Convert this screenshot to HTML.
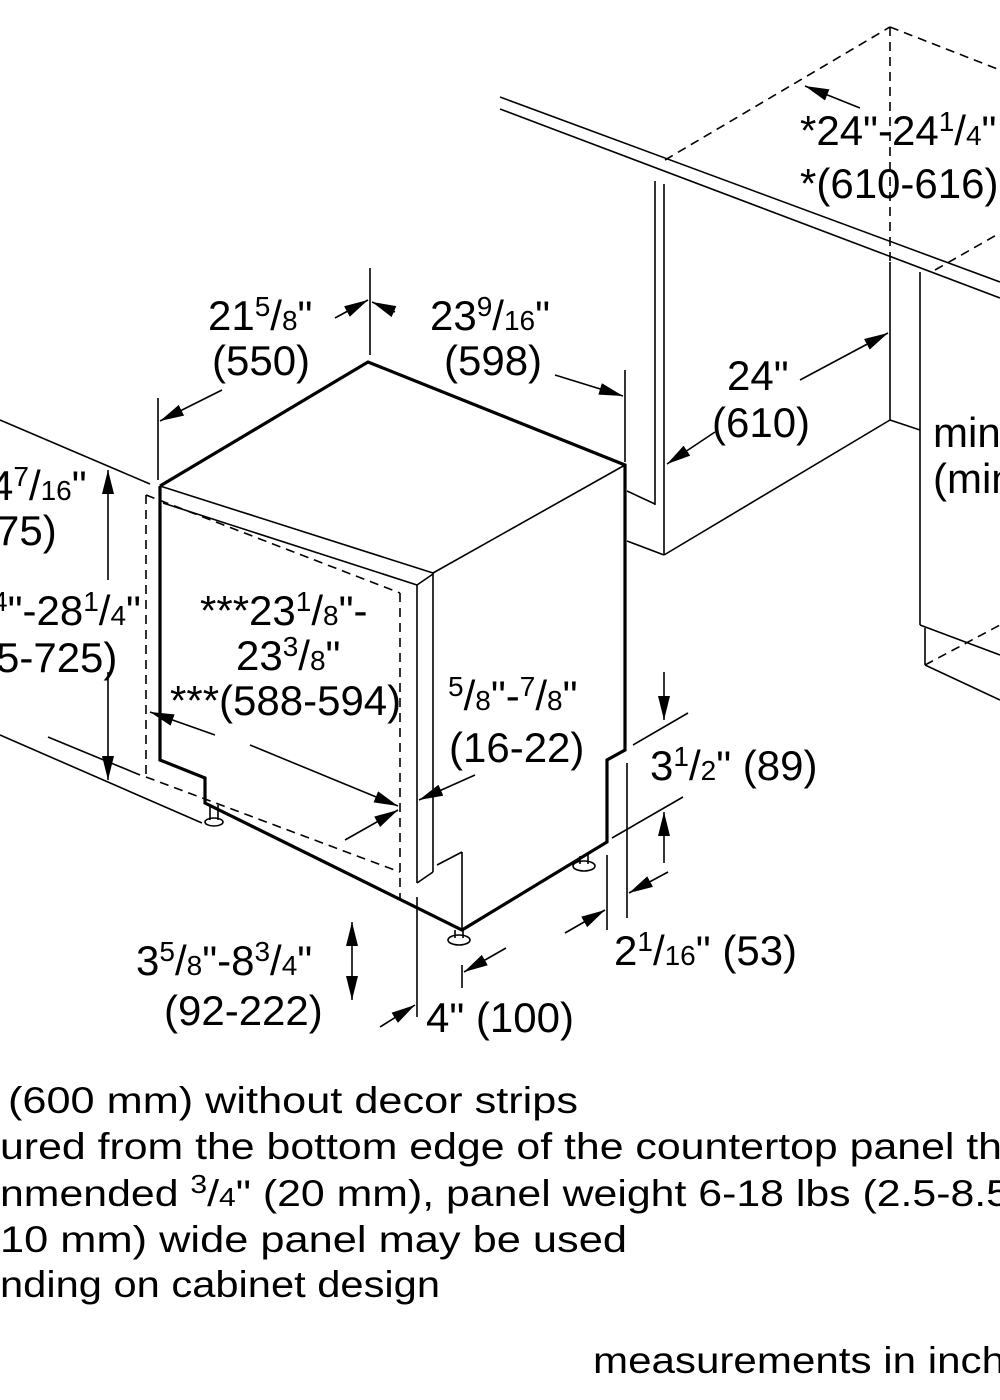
<!DOCTYPE html>
<html><head><meta charset="utf-8"><style>
html,body{margin:0;padding:0;background:#fff;}
svg{display:block;}
text{font-family:"Liberation Sans",sans-serif;fill:#000;}
.d{font-size:42px;}
.f{font-size:37px;}
</style></head><body>
<svg width="1000" height="1400" viewBox="0 0 1000 1400" xmlns="http://www.w3.org/2000/svg">
<defs>
<marker id="b" viewBox="0 0 24 12" refX="24" refY="6" markerWidth="24" markerHeight="12" markerUnits="userSpaceOnUse" orient="auto">
<path d="M0,0 L24,6 L0,12 z" fill="#000"/>
</marker>
</defs>
<g stroke="#000" fill="none" stroke-width="1.6">
<line x1="500" y1="97" x2="1000" y2="282"/>
<line x1="500" y1="109" x2="1000" y2="298"/>
<g stroke-dasharray="9,6">
<line x1="665" y1="160" x2="890" y2="27"/>
<line x1="890" y1="27" x2="1000" y2="70"/>
<line x1="890" y1="27" x2="890" y2="262"/>
<line x1="935" y1="270" x2="1000" y2="233"/>
<line x1="925" y1="665" x2="1000" y2="625"/>
</g>
<line x1="655" y1="181" x2="655" y2="505"/>
<line x1="664" y1="184" x2="664" y2="555"/>
<line x1="627" y1="491" x2="655" y2="504"/>
<line x1="627" y1="541" x2="664" y2="555"/>
<line x1="664" y1="555" x2="890" y2="420"/>
<line x1="890" y1="420" x2="920" y2="430"/>
<line x1="890" y1="262" x2="890" y2="420"/>
<line x1="920" y1="272" x2="920" y2="625"/>
<line x1="920" y1="625" x2="1000" y2="655"/>
<line x1="925" y1="628" x2="925" y2="665"/>
<line x1="925" y1="665" x2="1000" y2="700"/>
<line x1="0" y1="420" x2="150" y2="484"/>
<line x1="0" y1="735" x2="202" y2="823"/>
<line x1="48" y1="737" x2="140" y2="775"/>
<g stroke-dasharray="9,6">
<line x1="146" y1="495" x2="146" y2="777"/>
<line x1="146" y1="495" x2="400" y2="593"/>
<line x1="400" y1="593" x2="400" y2="900"/>
<line x1="146" y1="777" x2="400" y2="872"/>
</g>
<line x1="160" y1="486" x2="433" y2="573"/>
<line x1="163" y1="503" x2="417" y2="585"/>
<line x1="417" y1="585" x2="433" y2="574"/>
<line x1="417" y1="585" x2="417" y2="883"/>
<line x1="433" y1="573" x2="433" y2="872"/>
<line x1="417" y1="883" x2="433" y2="872"/>
<line x1="433" y1="573" x2="625" y2="465"/>
<line x1="437" y1="865" x2="462" y2="852"/>
<line x1="462" y1="852" x2="462" y2="930"/>
<g stroke-width="3.2" stroke-linejoin="miter">
<polyline points="160,486 368,362 625,465 625,750 607,760 607,842 462,930 205,803 205,778 160,760 160,486"/>
</g>
<ellipse cx="214" cy="822" rx="9" ry="4"/><line x1="210" y1="805" x2="210" y2="820"/><line x1="218" y1="805" x2="218" y2="820"/>
<ellipse cx="459" cy="940" rx="11" ry="5"/><line x1="455" y1="930" x2="455" y2="938"/><line x1="463" y1="930" x2="463" y2="938"/>
<ellipse cx="584" cy="866" rx="11" ry="5"/><line x1="580" y1="856" x2="580" y2="864"/><line x1="588" y1="854" x2="588" y2="864"/>
<line x1="158" y1="398" x2="158" y2="480"/>
<line x1="370" y1="268" x2="370" y2="355"/>
<line x1="625" y1="370" x2="625" y2="462"/>
<line x1="633" y1="745" x2="688" y2="713"/>
<line x1="612" y1="838" x2="683" y2="797"/>
<line x1="607" y1="855" x2="607" y2="930"/>
<line x1="627" y1="763" x2="627" y2="918"/>
<line x1="462" y1="965" x2="462" y2="988"/>
<line x1="417" y1="897" x2="417" y2="1017"/>
<g marker-end="url(#b)">
<line x1="222" y1="390" x2="160" y2="421"/>
<line x1="335" y1="318" x2="368" y2="300"/>
<line x1="395" y1="312" x2="372" y2="302"/>
<line x1="555" y1="375" x2="623" y2="396"/>
<line x1="800" y1="380" x2="888" y2="333"/>
<line x1="715" y1="432" x2="667" y2="464"/>
<line x1="860" y1="108" x2="805" y2="86"/>
<line x1="108" y1="580" x2="108" y2="470"/>
<line x1="108" y1="672" x2="108" y2="780"/>
<line x1="215" y1="735" x2="150" y2="712"/>
<line x1="250" y1="745" x2="398" y2="806"/>
<line x1="345" y1="840" x2="398" y2="810"/>
<line x1="475" y1="775" x2="419" y2="800"/>
<line x1="664" y1="672" x2="664" y2="720"/>
<line x1="664" y1="863" x2="664" y2="812"/>
<line x1="668" y1="872" x2="629" y2="893"/>
<line x1="565" y1="933" x2="605" y2="910"/>
<line x1="506" y1="948" x2="464" y2="972"/>
<line x1="380" y1="1027" x2="415" y2="1005"/>
<line x1="352" y1="960" x2="352" y2="922"/>
<line x1="352" y1="960" x2="352" y2="1000"/>
</g>
</g>
<g class="d">
<text x="208" y="330">21<tspan font-size="28" dy="-14">5</tspan><tspan dy="14">/</tspan><tspan font-size="28">8</tspan>"</text>
<text x="212" y="375">(550)</text>
<text x="430" y="330">23<tspan font-size="28" dy="-14">9</tspan><tspan dy="14">/</tspan><tspan font-size="28">16</tspan>"</text>
<text x="444" y="375">(598)</text>
<text x="727" y="390">24"</text>
<text x="712" y="437">(610)</text>
<text x="800" y="145">*24"-24<tspan font-size="28" dy="-14">1</tspan><tspan dy="14">/</tspan><tspan font-size="28">4</tspan>"</text>
<text x="800" y="198">*(610-616)</text>
<text x="933" y="447">min</text>
<text x="933" y="493">(min</text>
<text x="-10" y="500">4<tspan font-size="28" dy="-14">7</tspan><tspan dy="14">/</tspan><tspan font-size="28">16</tspan>"</text>
<text x="-4" y="545">75)</text>
<text x="-8" y="625"><tspan font-size="28" dy="-14">4</tspan><tspan dy="14">"-28</tspan><tspan font-size="28" dy="-14">1</tspan><tspan dy="14">/</tspan><tspan font-size="28">4</tspan>"</text>
<text x="-4" y="672">5-725)</text>
<text x="200" y="625">***23<tspan font-size="28" dy="-14">1</tspan><tspan dy="14">/</tspan><tspan font-size="28">8</tspan>"-</text>
<text x="236" y="670">23<tspan font-size="28" dy="-14">3</tspan><tspan dy="14">/</tspan><tspan font-size="28">8</tspan>"</text>
<text x="170" y="715">***(588-594)</text>
<text x="448" y="710"><tspan font-size="28" dy="-14">5</tspan><tspan dy="14">/</tspan><tspan font-size="28">8</tspan>"-<tspan font-size="28" dy="-14">7</tspan><tspan dy="14">/</tspan><tspan font-size="28">8</tspan>"</text>
<text x="449" y="762">(16-22)</text>
<text x="650" y="780">3<tspan font-size="28" dy="-14">1</tspan><tspan dy="14">/</tspan><tspan font-size="28">2</tspan>" (89)</text>
<text x="614" y="965">2<tspan font-size="28" dy="-14">1</tspan><tspan dy="14">/</tspan><tspan font-size="28">16</tspan>" (53)</text>
<text x="136" y="975">3<tspan font-size="28" dy="-14">5</tspan><tspan dy="14">/</tspan><tspan font-size="28">8</tspan>"-8<tspan font-size="28" dy="-14">3</tspan><tspan dy="14">/</tspan><tspan font-size="28">4</tspan>"</text>
<text x="164" y="1025">(92-222)</text>
<text x="426" y="1032">4" (100)</text>
</g>
<g class="f">
<text x="8" y="1113" textLength="570" lengthAdjust="spacingAndGlyphs">(600 mm) without decor strips</text>
<text x="0" y="1159" textLength="1002" lengthAdjust="spacingAndGlyphs">ured from the bottom edge of the countertop panel th</text>
<text x="0" y="1206" textLength="1010" lengthAdjust="spacingAndGlyphs">nmended <tspan font-size="26" dy="-13">3</tspan><tspan dy="13">/</tspan><tspan font-size="26">4</tspan>" (20 mm), panel weight 6-18 lbs (2.5-8.5</text>
<text x="0" y="1252" textLength="627" lengthAdjust="spacingAndGlyphs">10 mm) wide panel may be used</text>
<text x="0" y="1297" textLength="440" lengthAdjust="spacingAndGlyphs">nding on cabinet design</text>
<text x="593" y="1373" textLength="412" lengthAdjust="spacingAndGlyphs">measurements in inch</text>
</g>
</svg>
</body></html>
